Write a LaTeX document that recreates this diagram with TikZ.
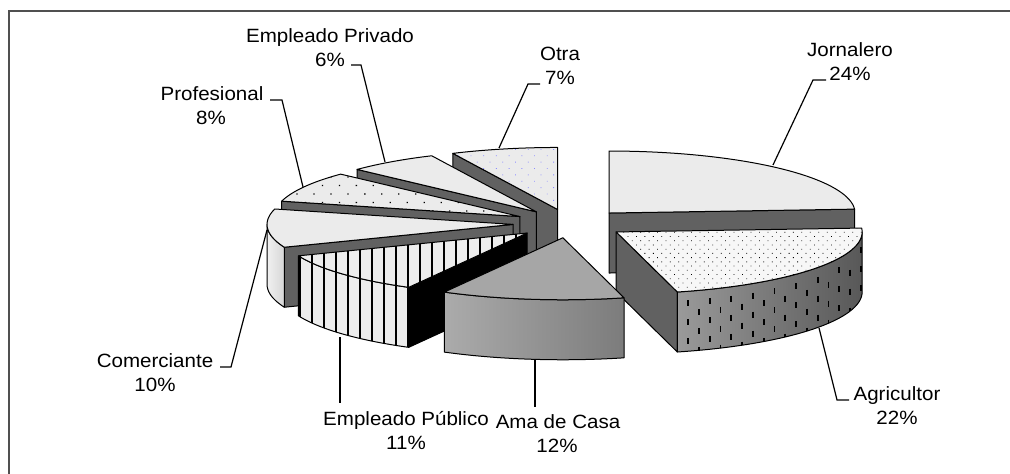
\documentclass[tikz,border=0pt]{standalone}
\usepackage{fontspec}
\setmainfont{Liberation Sans}[FakeStretch=1.07]
\usetikzlibrary{patterns.meta}
\definecolor{lightface}{HTML}{EBEBEB}
\definecolor{darkface}{HTML}{616161}
\definecolor{amatop}{HTML}{A6A6A6}
\definecolor{amaleft}{HTML}{ABABAB}
\definecolor{amaright}{HTML}{7C7C7C}
\definecolor{agrleft}{HTML}{9A9A9A}
\definecolor{agrright}{HTML}{585858}
\definecolor{comleft}{HTML}{F0F0F0}
\definecolor{comright}{HTML}{D6D6D6}
\definecolor{stripebg}{HTML}{EDEDED}
\definecolor{dotbg}{HTML}{F7F7F7}
\definecolor{frameline}{HTML}{505050}
\newcommand\setvertex[1]{\pgfmathsetmacro\vx{570+57.07*sin(#1)}\pgfmathsetmacro\vy{223.5-14.38*cos(#1)}}
\newcommand\radialface[2][]{\path[#1] (\vx,\vy) -- ({\vx+246*sin(#2)},{\vy-62*cos(#2)}) -- ++(0,60) -- (\vx,\vy+60) -- cycle;}
\newcommand\topface[3][]{\path[#1] (\vx,\vy) -- plot[domain=#2:#3,samples=40,variable=\t] ({\vx+246*sin(\t)},{\vy-62*cos(\t)}) -- cycle;}
\newcommand\sideface[3][]{\path[#1] plot[domain=#2:#3,samples=40,variable=\t] ({\vx+246*sin(\t)},{\vy-62*cos(\t)}) -- plot[domain=#3:#2,samples=40,variable=\t] ({\vx+246*sin(\t)},{\vy+60-62*cos(\t)}) -- cycle;}
\begin{document}
\begin{tikzpicture}[x=1pt,y=-1pt,
  edge/.style={draw=black,line width=1pt,line join=round},
  lab/.style={anchor=base,inner sep=0pt,font=\fontsize{19.2}{24}\selectfont},
  leader/.style={draw=black,line width=1.2pt}]
\useasboundingbox (0,0) rectangle (1010,474);
\fill[white] (0,0) rectangle (1010,474);
\begin{scope}
\clip (0,0) rectangle (1010,474);
\draw[frameline,line width=2pt] (9,490) -- (9,11) -- (1030,11);
\end{scope}
% Otra
\setvertex{347.4}
\radialface[edge,fill=darkface]{334.8}
\topface[edge,preaction={fill=lightface},pattern={Dots[distance=9pt,angle=45,radius=0.6pt]},pattern color=blue!45]{334.8}{360}
% Jornalero
\setvertex{43.2}
\radialface[edge,fill=darkface]{86.4}
\topface[edge,fill=lightface]{0}{86.4}
% Empleado Privado
\setvertex{324}
\radialface[edge,fill=darkface]{313.2}
\topface[edge,fill=lightface]{313.2}{334.8}
% Profesional
\setvertex{298.8}
\radialface[edge,fill=darkface]{284.4}
\topface[edge,preaction={fill=lightface},pattern={Dots[distance=12pt,angle=45,radius=0.9pt]},pattern color=black]{284.4}{313.2}
% Comerciante
\setvertex{266.4}
\radialface[edge,fill=darkface]{248.4}
\sideface[edge,left color=comleft,right color=comright]{248.4}{270}
\topface[edge,fill=lightface]{248.4}{284.4}
% Agricultor
\setvertex{126}
\radialface[edge,fill=darkface]{165.6}
\sideface[left color=agrleft,right color=agrright]{90}{165.6}
\begin{scope}
\sideface[clip]{90}{165.6}
\foreach \i in {0,...,16} {
  \pgfmathsetmacro\px{688+\i*10.8}
  \pgfmathsetmacro\py{\vy+62*sqrt(max(0,1-((\px-\vx)/246)^2))+12+mod(\i,2)*9.5}
  \foreach \k in {0,1,2} {
    \draw[line width=1.8pt,black] (\px,\py+19*\k-3) -- (\px,\py+19*\k+3);
  }
}
\end{scope}
\sideface[edge]{90}{165.6}
\topface[edge,preaction={fill=dotbg},pattern={Dots[distance=6pt,angle=45,radius=0.55pt]},pattern color=black]{86.4}{165.6}
% Empleado Publico
\setvertex{228.6}
\radialface[edge,fill=black]{208.8}
\sideface[edge,preaction={fill=stripebg},pattern={Lines[angle=90,distance=12pt,line width=2pt]},pattern color=black]{208.8}{248.4}
\topface[edge,preaction={fill=stripebg},pattern={Lines[angle=90,distance=12pt,line width=2pt]},pattern color=black]{208.8}{248.4}
% Ama de Casa
\setvertex{187.2}
\sideface[edge,left color=amaleft,right color=amaright]{165.6}{208.8}
\topface[edge,fill=amatop]{165.6}{208.8}
% Labels
\node[lab] (jor1) at (850,56) {Jornalero};
\node[lab] (jor2) at (850,80) {24\%};
\node[lab] (otr1) at (560,60) {Otra};
\node[lab] (otr2) at (560,84) {7\%};
\node[lab] (epr1) at (330,42) {Empleado Privado};
\node[lab] (epr2) at (330,66) {6\%};
\node[lab] (pro1) at (212,100) {Profesional};
\node[lab] (pro2) at (211,124) {8\%};
\node[lab] (com1) at (155,367) {Comerciante};
\node[lab] (com2) at (155,391) {10\%};
\node[lab] (epu1) at (406,425) {Empleado Público};
\node[lab] (epu2) at (406,449) {11\%};
\node[lab] (ama1) at (558,428) {Ama de Casa};
\node[lab] (ama2) at (557,452) {12\%};
\node[lab] (agr1) at (897,400) {Agricultor};
\node[lab] (agr2) at (897,424) {22\%};
% Leaders
\coordinate (jorA) at (826,80); \coordinate (jorB) at (813,80); \coordinate (jorC) at (773,165);
\draw[leader] (jorA) -- (jorB) -- (jorC);
\coordinate (otrA) at (540,84); \coordinate (otrB) at (528,84); \coordinate (otrC) at (499,148);
\draw[leader] (otrA) -- (otrB) -- (otrC);
\coordinate (eprA) at (351,65); \coordinate (eprB) at (361,65); \coordinate (eprC) at (385,162);
\draw[leader] (eprA) -- (eprB) -- (eprC);
\coordinate (proA) at (270,100); \coordinate (proB) at (282,100); \coordinate (proC) at (303,187);
\draw[leader] (proA) -- (proB) -- (proC);
\coordinate (comA) at (220,367); \coordinate (comB) at (231,367); \coordinate (comC) at (267,230);
\draw[leader] (comA) -- (comB) -- (comC);
\coordinate (epuA) at (340,337); \coordinate (epuB) at (340,403);
\draw[leader] (epuA) -- (epuB);
\coordinate (amaA) at (535,360); \coordinate (amaB) at (535,407);
\draw[leader] (amaA) -- (amaB);
\coordinate (agrA) at (819,328); \coordinate (agrB) at (837,400); \coordinate (agrC) at (849,400);
\draw[leader] (agrA) -- (agrB) -- (agrC);
\end{tikzpicture}
\end{document}
